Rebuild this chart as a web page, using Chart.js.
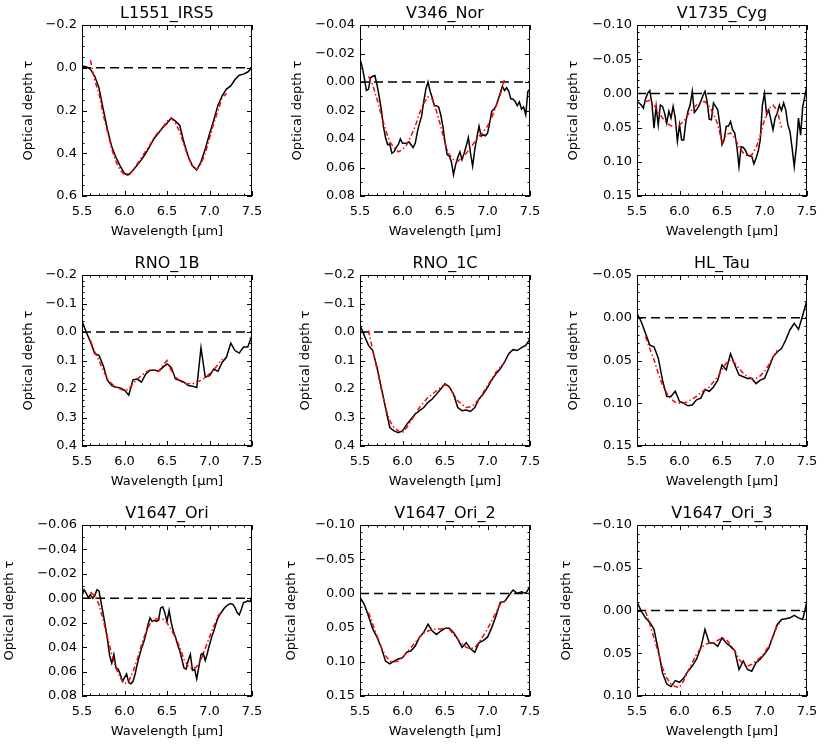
<!DOCTYPE html>
<html>
<head>
<meta charset="utf-8">
<script src="https://cdn.jsdelivr.net/npm/chart.js@4.4.1/dist/chart.umd.min.js"></script>
<style>
  html, body { margin: 0; padding: 0; background: #fff; }
  #page { position: relative; width: 830px; height: 748px; overflow: hidden; }
  #page canvas { position: absolute; }
</style>
</head>
<body>
<div id="page"></div>
<script>
// source names (panel titles)
const sources = ["L1551_IRS5", "V346_Nor", "V1735_Cyg", "RNO_1B", "RNO_1C", "HL_Tau", "V1647_Ori", "V1647_Ori_2", "V1647_Ori_3"];

// wavelength grids (micron)
const wlGrid = [5.50, 5.55, 5.60, 5.65, 5.70, 5.75, 5.80, 5.85, 5.90, 5.95, 6.00, 6.05, 6.10, 6.15, 6.20, 6.25, 6.30, 6.35, 6.40, 6.45,
  6.50, 6.55, 6.60, 6.65, 6.70, 6.75, 6.80, 6.85, 6.90, 6.95, 7.00, 7.05, 7.10, 7.15, 7.20, 7.25, 7.30, 7.35, 7.40, 7.45, 7.50];
const wlFine = [5.500, 5.525, 5.550, 5.575, 5.600, 5.625, 5.650, 5.675, 5.700, 5.725, 5.750, 5.775, 5.800, 5.825, 5.850, 5.875,
  5.900, 5.925, 5.950, 5.975, 6.000, 6.025, 6.050, 6.075, 6.100, 6.125, 6.150, 6.175, 6.200, 6.225, 6.250, 6.275,
  6.300, 6.325, 6.350, 6.375, 6.400, 6.425, 6.450, 6.475, 6.500, 6.525, 6.550, 6.575, 6.600, 6.625, 6.650, 6.675,
  6.700, 6.725, 6.750, 6.775, 6.800, 6.825, 6.850, 6.875, 6.900, 6.925, 6.950, 6.975, 7.000, 7.025, 7.050, 7.075,
  7.100, 7.125, 7.150, 7.175, 7.200, 7.225, 7.250, 7.275, 7.300, 7.325, 7.350, 7.375, 7.400, 7.425, 7.450, 7.475, 7.500];
const wlFit = [5.60, 5.65, 5.70, 5.75, 5.80, 5.85, 5.90, 5.95, 6.00, 6.05, 6.10, 6.15, 6.20, 6.25, 6.30, 6.35, 6.40,
  6.45, 6.50, 6.55, 6.60, 6.65, 6.70, 6.75, 6.80, 6.85, 6.90, 6.95, 7.00, 7.05, 7.10, 7.15, 7.20];
const zeroX = [5.5, 7.5];
const zeroY = [0, 0];
const xTicks = [5.5, 6.0, 6.5, 7.0, 7.5];

// observed optical depth (black) and fit (red)
const obsL1551 = [-0.008, -0.005, 0.008, 0.04, 0.094, 0.195, 0.29, 0.37, 0.42, 0.46, 0.495, 0.50, 0.48, 0.455, 0.43, 0.40, 0.365, 0.33, 0.305, 0.28,
  0.26, 0.235, 0.25, 0.27, 0.35, 0.415, 0.46, 0.478, 0.44, 0.38, 0.31, 0.245, 0.175, 0.13, 0.10, 0.085, 0.055, 0.035, 0.03, 0.02, 0.0];
const fitL1551 = [-0.035, 0.06, 0.12, 0.22, 0.30, 0.38, 0.44, 0.48, 0.50, 0.505, 0.48, 0.45, 0.42, 0.39, 0.36, 0.325, 0.30,
  0.28, 0.25, 0.235, 0.26, 0.30, 0.36, 0.42, 0.46, 0.475, 0.45, 0.40, 0.33, 0.26, 0.20, 0.14, 0.12];

const obsV346 = [-0.016, -0.011, -0.003, 0.006, 0.005, -0.003, -0.004, -0.0045, 0.002, 0.010, 0.019, 0.031, 0.039, 0.044, 0.0435, 0.050,
  0.049, 0.046, 0.044, 0.040, 0.043, 0.043, 0.043, 0.042, 0.044, 0.046, 0.043, 0.035, 0.029, 0.024, 0.0136, 0.005,
  0.0, 0.0065, 0.011, 0.0166, 0.0166, 0.0175, 0.023, 0.031, 0.042, 0.051, 0.052, 0.056, 0.065, 0.058, 0.053, 0.049,
  0.0545, 0.050, 0.0447, 0.039, 0.050, 0.059, 0.0475, 0.039, 0.031, 0.038, 0.037, 0.0377, 0.036, 0.029, 0.0206, 0.019,
  0.017, 0.0124, 0.0077, 0.003, 0.006, 0.004, 0.0065, 0.012, 0.012, 0.0136, 0.0166, 0.014, 0.019, 0.0175, 0.023, 0.0065, 0.005];
const fitV346 = [-0.004, 0.002, 0.012, 0.023, 0.0335, 0.042, 0.046, 0.049, 0.0475, 0.044, 0.038, 0.031, 0.022, 0.015, 0.0105, 0.012, 0.0206,
  0.031, 0.043, 0.051, 0.0545, 0.0557, 0.053, 0.050, 0.046, 0.042, 0.038, 0.035, 0.031, 0.025, 0.017, 0.009, -0.002];

const obsV1735 = [0.012, 0.014, 0.017, 0.0215, 0.008, 0.0, -0.004, 0.014, 0.051, 0.019, 0.046, 0.017, 0.019, 0.029, 0.0435, 0.026,
  0.036, 0.019, 0.036, 0.070, 0.046, 0.068, 0.068, 0.041, 0.026, 0.017, -0.003, 0.028, 0.024, 0.019, 0.012, 0.0034,
  -0.003, 0.012, 0.0376, 0.0386, 0.014, 0.019, 0.024, 0.046, 0.075, 0.068, 0.048, 0.048, 0.041, 0.053, 0.058, 0.078,
  0.107, 0.078, 0.079, 0.083, 0.090, 0.092, 0.092, 0.103, 0.095, 0.085, 0.068, 0.017, 0.0, 0.031, 0.024, 0.0386,
  0.053, 0.036, 0.029, 0.017, 0.025, 0.014, 0.024, 0.046, 0.056, 0.080, 0.107, 0.078, 0.036, 0.061, 0.019, 0.0044, -0.0127];
const fitV1735 = [0.012, 0.010, 0.017, 0.026, 0.036, 0.0435, 0.0474, 0.048, 0.046, 0.041, 0.031, 0.023, 0.017, 0.0127, 0.012, 0.019, 0.03,
  0.045, 0.072, 0.06, 0.058, 0.065, 0.078, 0.087, 0.092, 0.09, 0.08, 0.062, 0.038, 0.022, 0.017, 0.025, 0.05];

const obsRNO1B = [-0.038, 0.0, 0.035, 0.076, 0.082, 0.118, 0.17, 0.188, 0.194, 0.196, 0.204, 0.222, 0.168, 0.165, 0.176, 0.147, 0.135, 0.133, 0.138, 0.124,
  0.112, 0.124, 0.165, 0.17, 0.176, 0.188, 0.19, 0.195, 0.055, 0.159, 0.153, 0.13, 0.138, 0.106, 0.088, 0.039, 0.065, 0.074, 0.053, 0.053, 0.012];
const fitRNO1B = [0.03, 0.07, 0.1, 0.135, 0.165, 0.182, 0.194, 0.2, 0.206, 0.2, 0.182, 0.165, 0.153, 0.141, 0.133, 0.135, 0.138,
  0.118, 0.1, 0.135, 0.159, 0.17, 0.18, 0.182, 0.182, 0.176, 0.17, 0.161, 0.147, 0.133, 0.114, 0.094, null];

const obsRNO1C = [-0.024, 0.012, 0.047, 0.065, 0.124, 0.194, 0.265, 0.335, 0.347, 0.353, 0.347, 0.324, 0.306, 0.288, 0.276, 0.265, 0.247, 0.235, 0.218, 0.2,
  0.182, 0.192, 0.218, 0.265, 0.276, 0.274, 0.279, 0.265, 0.235, 0.218, 0.194, 0.168, 0.147, 0.129, 0.106, 0.076, 0.062, 0.065, 0.055, 0.047, 0.024];
const fitRNO1C = [-0.006, 0.065, 0.13, 0.2, 0.265, 0.312, 0.335, 0.347, 0.353, 0.335, 0.312, 0.288, 0.265, 0.247, 0.229, 0.218, 0.206,
  0.194, 0.185, 0.194, 0.218, 0.241, 0.255, 0.265, 0.262, 0.253, 0.235, 0.212, 0.188, 0.165, 0.141, 0.124, 0.106];

const obsHLTau = [-0.005, 0.0047, 0.018, 0.032, 0.034, 0.047, 0.073, 0.092, 0.092, 0.086, 0.098, 0.1, 0.103, 0.102, 0.096, 0.094, 0.084, 0.086, 0.081, 0.073,
  0.055, 0.061, 0.042, 0.055, 0.067, 0.069, 0.071, 0.071, 0.077, 0.073, 0.071, 0.059, 0.046, 0.04, 0.036, 0.026, 0.014, 0.0066, 0.0136, -0.003, -0.021];
const fitHLTau = [0.022, 0.036, 0.049, 0.065, 0.079, 0.088, 0.095, 0.099, 0.1, 0.1, 0.098, 0.095, 0.092, 0.088, 0.084, 0.081, 0.075,
  0.069, 0.061, 0.053, 0.049, 0.053, 0.059, 0.065, 0.069, 0.071, 0.071, 0.068, 0.063, 0.055, 0.046, 0.038, null];

const obsV1647 = [-0.002, -0.007, -0.004, -0.0005, -0.003, 0.0, -0.002, -0.007, -0.006, 0.0035, 0.013, 0.023, 0.034, 0.047, 0.053, 0.046,
  0.057, 0.058, 0.062, 0.068, 0.065, 0.062, 0.069, 0.07, 0.068, 0.062, 0.054, 0.047, 0.041, 0.036, 0.03, 0.022,
  0.016, 0.019, 0.018, 0.019, 0.018, 0.008, 0.007, 0.012, 0.019, 0.010, 0.02, 0.027, 0.032, 0.038, 0.043, 0.050,
  0.057, 0.058, 0.051, 0.046, 0.059, 0.058, 0.066, 0.056, 0.046, 0.045, 0.051, 0.045, 0.038, 0.032, 0.027, 0.021,
  0.016, 0.013, 0.0104, 0.008, 0.0063, 0.005, 0.0044, 0.005, 0.0076, 0.0117, 0.0136, 0.009, 0.0035, 0.003, 0.002, 0.0027, -0.0005];
const fitV1647 = [-0.005, -0.002, 0.005, 0.018, 0.032, 0.046, 0.057, 0.065, 0.07, 0.068, 0.06, 0.05, 0.038, 0.028, 0.021, 0.017, 0.017,
  0.017, 0.02, 0.026, 0.032, 0.04, 0.05, 0.056, 0.058, 0.056, 0.05, 0.041, 0.032, 0.023, 0.0145, 0.0104, null];

const obsV1647b = [0.006, 0.016, 0.033, 0.052, 0.064, 0.079, 0.099, 0.103, 0.099, 0.096, 0.094, 0.086, 0.084, 0.077, 0.064, 0.057, 0.045, 0.055, 0.06, 0.055,
  0.051, 0.051, 0.057, 0.067, 0.079, 0.072, 0.081, 0.086, 0.072, 0.069, 0.064, 0.05, 0.033, 0.013, 0.012, 0.0034, -0.005, 0.0, -0.0024, 0.0, -0.01];
const fitV1647b = [0.028, 0.045, 0.062, 0.079, 0.091, 0.099, 0.1, 0.099, 0.094, 0.086, 0.079, 0.072, 0.064, 0.058, 0.055, 0.053, 0.052,
  0.052, 0.051, 0.052, 0.06, 0.067, 0.074, 0.079, 0.081, 0.079, 0.072, 0.062, 0.052, 0.04, 0.028, 0.016, 0.011];

const obsV1647c = [-0.01, 0.0008, 0.0086, 0.0136, 0.022, 0.046, 0.073, 0.086, 0.089, 0.082, 0.084, 0.079, 0.071, 0.065, 0.057, 0.044, 0.022, 0.038, 0.038, 0.042,
  0.032, 0.038, 0.042, 0.047, 0.069, 0.059, 0.069, 0.071, 0.061, 0.057, 0.051, 0.044, 0.03, 0.0163, 0.0105, 0.0097, 0.0086, 0.0058, 0.0086, 0.0105, -0.011];
const fitV1647c = [0.0008, 0.016, 0.032, 0.049, 0.067, 0.079, 0.086, 0.089, 0.09, 0.082, 0.071, 0.061, 0.051, 0.044, 0.04, 0.038, 0.038,
  0.035, 0.032, 0.034, 0.04, 0.047, 0.057, 0.063, 0.065, 0.063, 0.059, 0.055, 0.049, 0.042, 0.03, 0.018, 0.012];

// y tick values per panel (first/last = axis range, axis is flipped)
const ticksL1551 = [-0.2, 0.0, 0.2, 0.4, 0.6];
const ticksV346 = [-0.04, -0.02, 0.00, 0.02, 0.04, 0.06, 0.08];
const ticksV1735 = [-0.10, -0.05, 0.00, 0.05, 0.10, 0.15];
const ticksRNO = [-0.2, -0.1, 0.0, 0.1, 0.2, 0.3, 0.4];
const ticksHLTau = [-0.05, 0.00, 0.05, 0.10, 0.15];
const ticksV1647 = [-0.06, -0.04, -0.02, 0.00, 0.02, 0.04, 0.06, 0.08];
const ticksV1647b = [-0.10, -0.05, 0.00, 0.05, 0.10, 0.15];
const ticksV1647c = [-0.10, -0.05, 0.00, 0.05, 0.10];

const panels = [
  { ox: wlGrid, oy: obsL1551, fy: fitL1551, yt: ticksL1551, dec: 1, minor: 4 },
  { ox: wlFine, oy: obsV346, fy: fitV346, yt: ticksV346, dec: 2, minor: 2 },
  { ox: wlFine, oy: obsV1735, fy: fitV1735, yt: ticksV1735, dec: 2, minor: 5 },
  { ox: wlGrid, oy: obsRNO1B, fy: fitRNO1B, yt: ticksRNO, dec: 1, minor: 5 },
  { ox: wlGrid, oy: obsRNO1C, fy: fitRNO1C, yt: ticksRNO, dec: 1, minor: 5 },
  { ox: wlGrid, oy: obsHLTau, fy: fitHLTau, yt: ticksHLTau, dec: 2, minor: 5 },
  { ox: wlFine, oy: obsV1647, fy: fitV1647, yt: ticksV1647, dec: 2, minor: 2 },
  { ox: wlGrid, oy: obsV1647b, fy: fitV1647b, yt: ticksV1647b, dec: 2, minor: 5 },
  { ox: wlGrid, oy: obsV1647c, fy: fitV1647c, yt: ticksV1647c, dec: 2, minor: 5 }
];

// page layout (pixels) - kept apart from the data
const colLeft = [82, 360, 637];
const rowTop = [25, 275, 525];
const plotW = 170, plotH = 171;
const yAxisW = [61, 70, 71, 61, 62, 71, 80, 76, 78]; // room for labels + title, differs per panel like in IDL
const padTop = 30, padRight = 24, xAxisH = 48;
const FONT = "'DejaVu Sans', sans-serif";

const pts = (xs, ys) => xs.map((x, i) => ({ x: x, y: ys[i] }));
const fmt = (v, d) => v.toFixed(d).replace("-", "\u2212");

// IDL style box: frame with inward ticks on all 4 sides + title on top
const idlBox = {
  id: "idlBox",
  afterDraw(chart, args, o) {
    const { ctx, chartArea: a, scales: { x, y } } = chart;
    ctx.save();
    ctx.strokeStyle = "#000";
    ctx.lineWidth = 1;
    ctx.strokeRect(a.left + 0.5, a.top + 0.5, a.width - 1, a.height - 1);
    ctx.beginPath();
    const xt = (v, len) => {
      const px = Math.round(x.getPixelForValue(v)) + 0.5;
      ctx.moveTo(px, a.bottom); ctx.lineTo(px, a.bottom - len);
      ctx.moveTo(px, a.top); ctx.lineTo(px, a.top + len);
    };
    const yt = (v, len) => {
      const py = Math.round(y.getPixelForValue(v)) + 0.5;
      ctx.moveTo(a.left, py); ctx.lineTo(a.left + len, py);
      ctx.moveTo(a.right, py); ctx.lineTo(a.right - len, py);
    };
    for (let k = 0; k < xTicks.length; k++) {
      xt(xTicks[k], 5);
      if (k < xTicks.length - 1) {
        const st = (xTicks[k + 1] - xTicks[k]) / 5;
        for (let j = 1; j < 5; j++) xt(xTicks[k] + j * st, 2.5);
      }
    }
    const t = o.ticks;
    for (let k = 0; k < t.length; k++) {
      yt(t[k], 5);
      if (k < t.length - 1) {
        const st = (t[k + 1] - t[k]) / o.minor;
        for (let j = 1; j < o.minor; j++) yt(t[k] + j * st, 2.5);
      }
    }
    ctx.stroke();
    ctx.fillStyle = "#000";
    ctx.font = "16px " + FONT;
    ctx.textAlign = "center";
    ctx.textBaseline = "middle";
    ctx.fillText(o.title, (a.left + a.right) / 2, a.top - 11);
    ctx.restore();
  }
};

const page = document.getElementById("page");

panels.forEach((p, i) => {
  const col = i % 3, row = Math.floor(i / 3);
  const yw = yAxisW[i];
  const cv = document.createElement("canvas");
  const w = yw + plotW + padRight, h = padTop + plotH + xAxisH;
  cv.width = w; cv.height = h;
  cv.style.width = w + "px"; cv.style.height = h + "px";
  cv.style.left = (colLeft[col] - yw) + "px";
  cv.style.top = (rowTop[row] - padTop) + "px";
  page.appendChild(cv);

  new Chart(cv.getContext("2d"), {
    type: "line",
    data: {
      datasets: [
        { data: pts(wlFit, p.fy), borderColor: "#ff0000", borderWidth: 1.5, borderDash: [5, 2.5, 1.5, 2.5] },
        { data: pts(p.ox, p.oy), borderColor: "#000", borderWidth: 1.5 },
        { data: pts(zeroX, zeroY), borderColor: "#000", borderWidth: 1.5, borderDash: [9, 5] }
      ]
    },
    options: {
      responsive: false,
      animation: false,
      devicePixelRatio: 1,
      layout: { padding: { top: padTop, right: padRight, left: 0, bottom: 0 } },
      elements: { point: { radius: 0 }, line: { tension: 0, fill: false } },
      plugins: {
        legend: { display: false },
        tooltip: { enabled: false },
        idlBox: { title: sources[i], ticks: p.yt, minor: p.minor }
      },
      scales: {
        x: {
          type: "linear", min: 5.5, max: 7.5,
          afterBuildTicks: s => { s.ticks = xTicks.map(v => ({ value: v })); },
          afterFit: s => { s.height = xAxisH; s.paddingLeft = 0; s.paddingRight = 0; },
          grid: { display: false, drawTicks: false },
          border: { display: false },
          ticks: { color: "#000", font: { family: FONT, size: 13 }, padding: 8, maxRotation: 0, autoSkip: false,
                   callback: v => fmt(v, 1) },
          title: { display: true, text: "Wavelength [\u03bcm]", color: "#000", font: { family: FONT, size: 13 },
                   padding: { top: 0, bottom: 5 } }
        },
        y: {
          type: "linear", reverse: true, min: p.yt[0], max: p.yt[p.yt.length - 1],
          afterBuildTicks: s => { s.ticks = p.yt.map(v => ({ value: v })); },
          afterFit: s => { s.width = yw; s.paddingTop = 0; s.paddingBottom = 0; },
          grid: { display: false, drawTicks: false },
          border: { display: false },
          ticks: { color: "#000", font: { family: FONT, size: 13 }, padding: 5, autoSkip: false,
                   callback: v => fmt(v, p.dec) },
          title: { display: true, text: "Optical depth \u03c4", color: "#000", font: { family: FONT, size: 13 },
                   padding: { top: 0, bottom: 0 } }
        }
      }
    },
    plugins: [idlBox]
  });
});
</script>
</body>
</html>
